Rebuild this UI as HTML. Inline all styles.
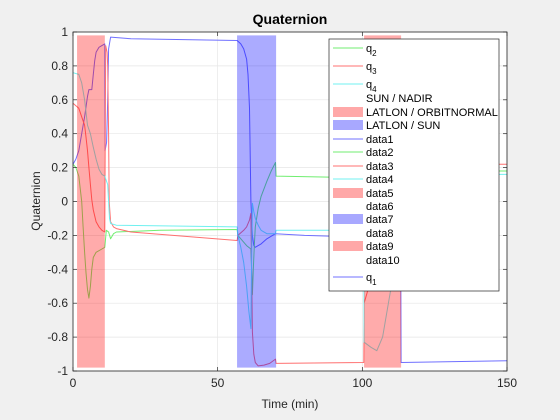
<!DOCTYPE html>
<html><head><meta charset="utf-8"><style>
body{margin:0;background:#f0f0f0;}
svg{display:block;font-family:"Liberation Sans",sans-serif;}
</style></head><body>
<svg id="chart" width="560" height="420" viewBox="0 0 560 420" xmlns="http://www.w3.org/2000/svg">
<rect width="560" height="420" fill="#f0f0f0"/>
<rect x="73" y="32" width="434" height="339" fill="#fff"/>
<g id="grid"></g>
<g id="series"></g>
<g id="patches"></g>
<rect x="73" y="32" width="434" height="339" fill="none" stroke="#262626" stroke-width="0.8"/>
<g id="ticks"></g>
<text x="290" y="24" text-anchor="middle" font-size="14" font-weight="bold" fill="#000">Quaternion</text>
<text x="290" y="408" text-anchor="middle" font-size="12" fill="#262626">Time (min)</text>
<text x="0" y="0" transform="translate(40,201) rotate(-90)" text-anchor="middle" font-size="12" fill="#262626">Quaternion</text>
<g id="legend"></g>
</svg>
<script>
const xTicks=[0,50,100,150];
const yTicks=[-1,-0.8,-0.6,-0.4,-0.2,0,0.2,0.4,0.6,0.8,1];
const yTickLabels=["-1","-0.8","-0.6","-0.4","-0.2","0","0.2","0.4","0.6","0.8","1"];
const patchStarts=[1.4,56.7,100.6];
const patchEnds=[11,70.2,113.4];
const patchKinds=["red","blue","red"];
const q1=[[0,0.22],[1,0.25],[2,0.3],[3,0.4],[4,0.5],[5,0.62],[5.5,0.66],[6.5,0.66],[7,0.75],[7.5,0.83],[8,0.88],[9,0.91],[10,0.92],[11,0.93],[11.1,0.3],[11.6,0.35],[12,0.6],[12.3,0.9],[13,0.97],[20,0.96],[56.7,0.95],[58,0.93],[59,0.9],[60,0.84],[60.5,0.75],[61,0.55],[61.3,0.2],[61.5,0],[62,-0.2],[62.5,-0.26],[63,-0.27],[64,-0.26],[65,-0.25],[67,-0.22],[70,-0.19],[80,-0.2],[100,-0.21],[106,-0.3],[113.3,-0.4],[113.4,-0.95],[150,-0.94]];
const q2=[[0,0.22],[1,0.2],[2,0.15],[3,0],[3.5,-0.15],[4,-0.3],[4.5,-0.42],[5,-0.52],[5.5,-0.57],[6,-0.5],[6.5,-0.4],[7,-0.33],[8,-0.3],[10,-0.28],[11,-0.27],[11.5,-0.17],[12.3,-0.18],[13,-0.22],[14,-0.19],[15,-0.18],[30,-0.17],[56.7,-0.165],[57,-0.2],[59,-0.24],[60,-0.26],[61.5,-0.28],[62,-0.55],[62.3,-0.4],[62.7,-0.25],[63,-0.15],[64,-0.04],[65,0.03],[67,0.12],[68.5,0.18],[70,0.23],[70.2,0.15],[100,0.14],[113.4,0.18],[150,0.18]];
const q3=[[0,0.58],[2,0.55],[3,0.5],[4,0.45],[4.5,0.38],[5,0.3],[5.5,0.2],[6,0.1],[6.5,0.01],[7,-0.05],[8,-0.12],[9,-0.15],[10,-0.17],[11,-0.18],[11.3,0.92],[11.8,0.88],[12,0.8],[12.3,0.4],[12.5,0],[13,-0.12],[14,-0.15],[15,-0.16],[20,-0.18],[56.7,-0.23],[57,-0.2],[59,-0.17],[60,-0.15],[61,-0.11],[61.5,-0.07],[61.8,-0.5],[62,-0.77],[62.5,-0.9],[63,-0.95],[64,-0.97],[66,-0.965],[68,-0.955],[70,-0.93],[70.2,-0.955],[100.5,-0.95],[100.6,-0.6],[104,-0.4],[113.4,0.22],[150,0.22]];
const q4=[[0,0.76],[2,0.75],[3,0.7],[4,0.6],[5,0.45],[6,0.4],[7,0.32],[8,0.25],[9,0.19],[10,0.16],[11,0.15],[12,0.1],[12.3,0],[12.6,-0.1],[13,-0.13],[15,-0.14],[56.7,-0.15],[57,-0.2],[58,-0.27],[59,-0.36],[60,-0.5],[60.8,-0.65],[61.5,-0.75],[61.7,-0.4],[62,-0.01],[62.5,-0.06],[63,-0.1],[64,-0.14],[65,-0.17],[67,-0.19],[70,-0.19],[70.2,-0.17],[100.5,-0.17],[100.6,-0.83],[103,-0.86],[105,-0.88],[107,-0.8],[110,-0.5],[113,0.16],[150,0.16]];
const seriesData=[q1,q2,q3,q4];
const seriesNames=["q1","q2","q3","q4"];
const seriesColors=["#7070ff","#70ee70","#ff7070","#70f0f0"];
const legendLabels=["q2","q3","q4","SUN / NADIR","LATLON / ORBITNORMAL","LATLON / SUN","data1","data2","data3","data4","data5","data6","data7","data8","data9","data10","q1"];
const legendKinds=["g","r","c","n","R","B","b","g","r","c","R","n","B","n","R","n","b"];
const NS="http://www.w3.org/2000/svg";
const X=t=>73+t/150*434, Y=v=>201.5-v*169.5;
function mk(tag,attrs,parent){const e=document.createElementNS(NS,tag);for(const k in attrs)e.setAttribute(k,attrs[k]);parent.appendChild(e);return e;}
const grid=document.getElementById('grid'),ticks=document.getElementById('ticks');
xTicks.forEach((t,i)=>{
 const g=mk('line',{x1:X(t),x2:X(t),y1:32,y2:371,stroke:'#e6e6e6','stroke-width':0.7},grid);
 
 
 mk('line',{x1:X(t),x2:X(t),y1:371,y2:367,stroke:'#262626','stroke-width':0.7},ticks);
 mk('line',{x1:X(t),x2:X(t),y1:32,y2:36,stroke:'#262626','stroke-width':0.7},ticks);
 const l=mk('text',{x:X(t),y:387,'text-anchor':'middle','font-size':12,fill:'#262626'},ticks);
 l.textContent=t;
 
 
});
yTicks.forEach((v,i)=>{
 const g=mk('line',{x1:73,x2:507,y1:Y(v),y2:Y(v),stroke:'#e6e6e6','stroke-width':0.7},grid);
 
 
 mk('line',{x1:73,x2:77,y1:Y(v),y2:Y(v),stroke:'#262626','stroke-width':0.7},ticks);
 mk('line',{x1:503,x2:507,y1:Y(v),y2:Y(v),stroke:'#262626','stroke-width':0.7},ticks);
 const l=mk('text',{x:68,y:Y(v)+4,'text-anchor':'end','font-size':12,fill:'#262626'},ticks);
 l.textContent=yTickLabels[i];
 
 
});
const sg=document.getElementById('series');
seriesData.forEach((d,i)=>{
 const p=mk('polyline',{points:d.map(q=>X(q[0]).toFixed(1)+','+Y(q[1]).toFixed(1)).join(' '),fill:'none',stroke:seriesColors[i],'stroke-width':1,'stroke-linejoin':'round'},sg);
 
 
});
const pg=document.getElementById('patches');
patchStarts.forEach((s,i)=>{
 const r=mk('rect',{x:X(s),y:Y(0.98),width:X(patchEnds[i])-X(s),height:Y(-0.98)-Y(0.98),fill:patchKinds[i]=='red'?'#ff0000':'#0000ff','fill-opacity':0.33},pg);
 
 
});
const lg=document.getElementById('legend');
const lb=mk('rect',{x:329,y:39,width:170,height:252,fill:'#fff',stroke:'#262626','stroke-width':0.7},lg);


const rowY=[52,70,88,102,116,129,143,156,170,183,197,210,223,237,250,264,281];
const lc={g:'#70ee70',r:'#ff7070',c:'#70f0f0',b:'#7070ff'};
legendLabels.forEach((lab,i)=>{
 const y=rowY[i],k=legendKinds[i];
 if(lc[k]) mk('line',{x1:333,x2:363,y1:y-4,y2:y-4,stroke:lc[k],'stroke-width':1},lg);
 if(k=='R'||k=='B') mk('rect',{x:333,y:y-9,width:30,height:10,fill:k=='R'?'#ffa8a8':'#a8a8ff'},lg);
 const t=mk('text',{x:366,y:y,'font-size':11,fill:'#000'},lg);
 const m=lab.match(/^q(\d)$/);
 if(m){t.textContent='q';const s=mk('tspan',{'font-size':8,dy:4},t);s.textContent=m[1];}
 else t.textContent=lab;
 
 
});
</script>
</body></html>
